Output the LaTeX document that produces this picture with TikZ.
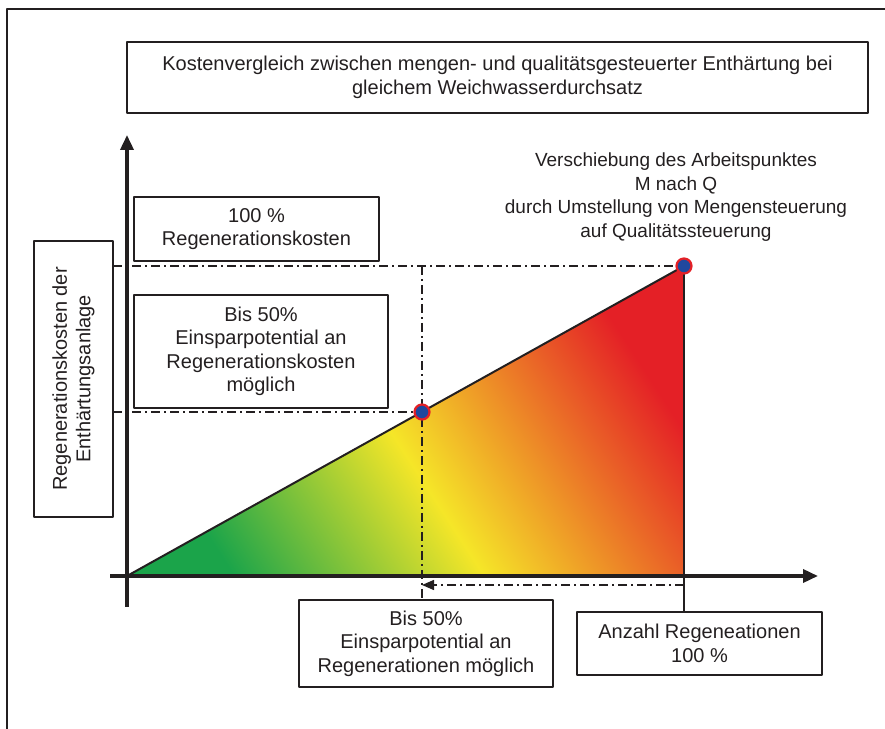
\documentclass[tikz,border=0pt]{standalone}
\usepackage{fontspec}
\setmainfont{Liberation Sans}
\usetikzlibrary{arrows.meta}
\usetikzlibrary{shapes}
\definecolor{gruen}{RGB}{27,164,74}
\definecolor{gelb}{RGB}{245,230,40}
\definecolor{rot}{RGB}{228,32,38}
\definecolor{punktblau}{RGB}{32,72,158}
\definecolor{linie}{RGB}{35,31,32}
\pgfdeclarehorizontalshading{kosten}{100bp}{color(0bp)=(gruen); color(25bp)=(gruen); color(48bp)=(gelb); color(75bp)=(rot); color(100bp)=(rot)}
\tikzset{
  kasten/.style={draw=linie, line width=1.2bp, inner sep=0pt, align=center, text=linie, font=\fontsize{20bp}{23.5bp}\selectfont},
  hilfslinie/.style={draw=linie, line width=1.4bp, dash pattern=on 9bp off 4bp on 2bp off 4bp},
  achse/.style={draw=linie, line width=3.5bp, -{Triangle[length=15bp,width=13bp]}},
  punkt/.style={circle, fill=punktblau, draw=rot, line width=2.2bp, minimum size=15bp, inner sep=0pt},
}
\begin{document}
\begin{tikzpicture}[>=latex,line join=bevel,]
\useasboundingbox (0bp,0bp) rectangle (885bp,729bp);
%%
\draw [linie,line width=1.5bp] (7bp,0bp) -- (7bp,720bp) -- (885bp,720bp);
%
\node (titel) at (497.5bp,651.5bp) [kasten,minimum width=741bp,minimum height=71bp] {Kostenvergleich zwischen mengen- und qualitätsgesteuerter Enthärtung bei\\gleichem Weichwasserdurchsatz};
  \node (ylabel) at (73.5bp,350bp) [kasten,rotate=90,minimum width=276bp,minimum height=79bp] {Regenerationskosten der\\Enthärtungsanlage};
  \node (kosten100) at (256.5bp,500bp) [kasten,minimum width=245bp,minimum height=64bp] {100 \%\\Regenerationskosten};
  \node (kosten50) at (261bp,377.5bp) [kasten,minimum width=254bp,minimum height=113bp] {Bis 50\%\\Einsparpotential an\\Regenerationskosten\\möglich};
  \node (regen50) at (426bp,85.5bp) [kasten,minimum width=254bp,minimum height=87bp] {Bis 50\%\\Einsparpotential an\\Regenerationen möglich};
  \node (anzahl) at (699.5bp,85.5bp) [kasten,minimum width=245bp,minimum height=63bp] {Anzahl Regeneationen\\100 \%};
  \node (verschiebung) at (676bp,532bp) [align=center,text=linie,font=\fontsize{19bp}{23.5bp}\selectfont] {Verschiebung des Arbeitspunktes\\M nach Q\\durch Umstellung von Mengensteuerung\\auf Qualitätssteuerung};
%
\coordinate (o) at (127bp,153bp);
  \coordinate (m) at (422bp,317bp);
  \coordinate (q) at (684bp,463bp);
  \coordinate (yfuss) at (127bp,122bp);
  \coordinate (yspitze) at (127bp,594bp);
  \coordinate (xfuss) at (110bp,153bp);
  \coordinate (xspitze) at (818bp,153bp);
  \coordinate (links100) at (113bp,463bp);
  \coordinate (links50) at (113bp,317bp);
  \coordinate (pfeilstart) at (684bp,144bp);
  \coordinate (pfeilende) at (422bp,144bp);
%
\shade [shading=kosten,shading angle=33] (o) -- (q |- o) -- (q) -- cycle;
  \draw [linie,line width=2bp] (o) -- (q);
  \draw [linie,line width=2bp] (q) -- (q |- anzahl.north);
  \draw [hilfslinie] (links100) -- (q);
  \draw [hilfslinie] (links50) -- (m);
  \draw [hilfslinie] (m |- q) -- (m |- regen50.north);
  \draw [hilfslinie,-{Triangle[length=12bp,width=10bp]}] (pfeilstart) -- (pfeilende);
  \draw [achse] (yfuss) -- (yspitze);
  \draw [achse] (xfuss) -- (xspitze);
  \node (M) at (m) [punkt] {};
  \node (Q) at (q) [punkt] {};
%
\end{tikzpicture}
\end{document}
